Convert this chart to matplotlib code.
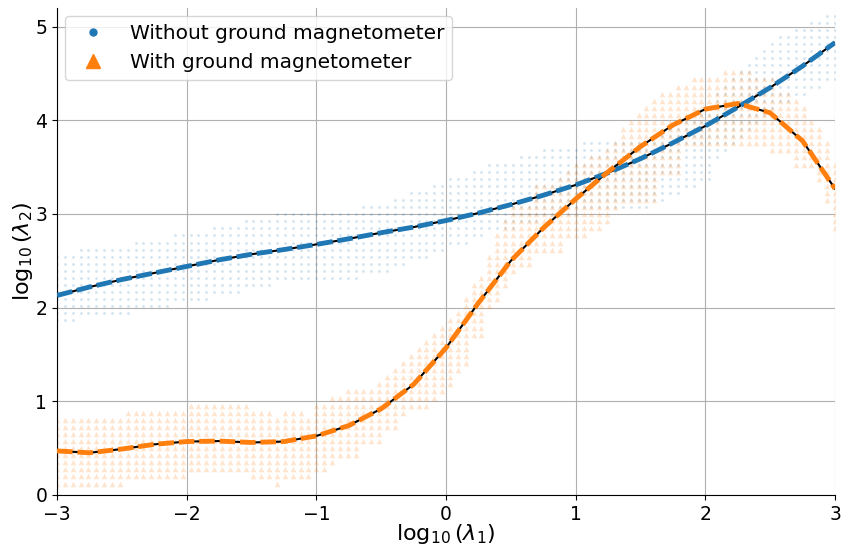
import numpy as np
import matplotlib
matplotlib.use('Agg')
import matplotlib.pyplot as plt
from matplotlib.lines import Line2D

# grid of tested (log10 lambda1, log10 lambda2) pairs
x_grid = np.linspace(-3, 3, 100)
y_grid = 0.1215 + 0.0757 * np.arange(70)

# accepted region per column: (first column, lowest row, highest row)
blue_runs = [(0, 23, 32), (3, 24, 33), (10, 25, 34), (15, 26, 35), (20, 27, 36),
             (24, 28, 37), (28, 29, 38), (39, 30, 39), (43, 31, 40), (45, 32, 41),
             (48, 33, 42), (50, 34, 43), (53, 35, 44), (55, 36, 45), (59, 37, 46),
             (62, 38, 47), (67, 39, 48), (76, 40, 49), (78, 41, 50), (80, 42, 51),
             (82, 43, 52), (84, 46, 55), (85, 47, 56), (86, 48, 57), (87, 49, 58),
             (88, 50, 59), (89, 51, 60), (90, 52, 61), (91, 53, 62), (92, 54, 63),
             (94, 55, 64), (96, 56, 65), (98, 57, 66)]
orange_runs = [(0, 0, 9), (9, 1, 10), (17, 2, 11), (25, 1, 10), (28, 0, 9), (29, 1, 10),
               (32, 1, 9), (33, 2, 11), (35, 3, 12), (36, 4, 12), (37, 4, 13), (39, 6, 13),
               (41, 6, 14), (42, 8, 15), (43, 8, 16), (44, 10, 17), (45, 11, 18),
               (46, 11, 19), (47, 11, 20), (48, 12, 21), (49, 13, 22), (50, 14, 23),
               (51, 16, 24), (52, 17, 26), (53, 21, 28), (54, 21, 29), (55, 25, 32),
               (56, 26, 35), (57, 28, 37), (58, 30, 39), (59, 31, 39), (61, 33, 42),
               (64, 33, 43), (65, 35, 44), (66, 35, 45), (68, 36, 46), (70, 37, 47),
               (71, 39, 48), (72, 40, 50), (73, 40, 51), (74, 40, 52), (75, 40, 53),
               (76, 40, 54), (77, 44, 55), (79, 44, 56), (80, 48, 56), (81, 48, 57),
               (85, 48, 58), (89, 48, 57), (91, 47, 57), (92, 47, 55), (94, 45, 54),
               (95, 45, 53), (96, 45, 51), (97, 43, 50), (98, 40, 48), (99, 36, 45)]

# fitted curves
x_fit = [-3, -2.75, -2.5, -2.25, -2, -1.75, -1.5, -1.25, -1, -0.75, -0.5, -0.25, 0,
         0.25, 0.5, 0.75, 1, 1.25, 1.5, 1.75, 2, 2.25, 2.5, 2.75, 3]
blue_fit = [2.13, 2.22, 2.30, 2.37, 2.44, 2.51, 2.57, 2.62, 2.675, 2.735, 2.80, 2.86, 2.93,
            3.01, 3.10, 3.20, 3.31, 3.44, 3.59, 3.76, 3.94, 4.14, 4.35, 4.58, 4.83]
orange_fit = [0.47, 0.45, 0.49, 0.54, 0.57, 0.575, 0.56, 0.57, 0.63, 0.74, 0.92, 1.18, 1.57,
              2.05, 2.50, 2.85, 3.16, 3.45, 3.72, 3.95, 4.12, 4.18, 4.08, 3.78, 3.27]


def runs_to_points(runs):
    xs, ys = [], []
    for i, (j0, lo, hi) in enumerate(runs):
        j1 = runs[i + 1][0] if i + 1 < len(runs) else len(x_grid)
        for j in range(j0, j1):
            for k in range(lo, hi + 1):
                xs.append(x_grid[j])
                ys.append(y_grid[k])
    return xs, ys


bx, by = runs_to_points(blue_runs)
ox, oy = runs_to_points(orange_runs)

fig = plt.figure(figsize=(8.46, 5.49), dpi=100)
ax = fig.add_axes([0.0674, 0.0985, 0.9196, 0.887])

ax.scatter(bx, by, s=4, color='#1f77b4', alpha=0.2, linewidths=0, zorder=2)
ax.scatter(ox, oy, s=16, marker='^', color='#ff7f0e', alpha=0.2, linewidths=0, zorder=2)

ax.plot(x_fit, blue_fit, color='black', lw=1.5, zorder=3)
ax.plot(x_fit, blue_fit, color='#1f77b4', lw=3.5, dashes=(3.2, 1), zorder=4)
ax.plot(x_fit, orange_fit, color='black', lw=1.5, zorder=3)
ax.plot(x_fit, orange_fit, color='#ff7f0e', lw=3.5, dashes=(3.2, 1), zorder=4)

ax.set_xlim(-3, 3)
ax.set_ylim(0, 5.2)
ax.grid(True, color='#b0b0b0', lw=0.8, zorder=0)
ax.set_axisbelow(True)
ax.spines['top'].set_visible(False)
ax.spines['right'].set_visible(False)
ax.tick_params(labelsize=13.5)
ax.set_xlabel(r'$\log_{10}(\lambda_1)$', fontsize=16, labelpad=-1)
ax.set_ylabel(r'$\log_{10}(\lambda_2)$', fontsize=16, labelpad=0)

handles = [Line2D([], [], marker='o', ls='', color='#1f77b4', markersize=5),
           Line2D([], [], marker='^', ls='', color='#ff7f0e', markersize=10)]
ax.legend(handles, ['Without ground magnetometer', 'With ground magnetometer'],
          loc='upper left', fontsize=14.5, borderaxespad=0.4)

fig.savefig('out.png', dpi=100)
